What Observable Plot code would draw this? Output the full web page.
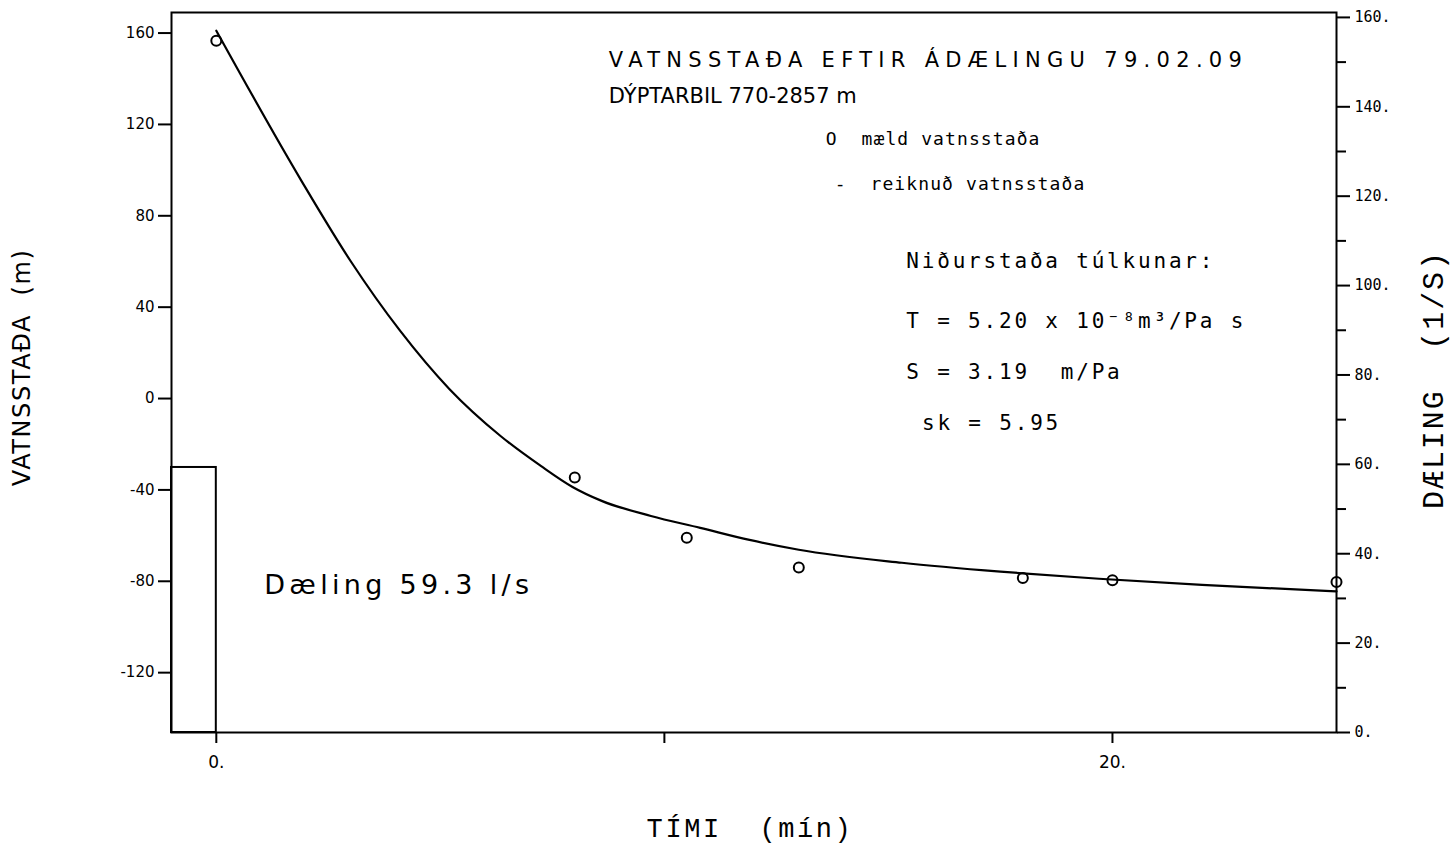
<!DOCTYPE html>
<html><head><meta charset="utf-8">
<script src="https://cdn.jsdelivr.net/npm/d3@7"></script>
<script src="https://cdn.jsdelivr.net/npm/@observablehq/plot@0.6"></script>
<style>
body{margin:0;background:#fff}
svg{display:block}
</style>
</head><body><div id="chart"></div>
<script>
// Measured water level (time in min, level in m)
const measuredTime  = [0, 8, 10.5, 13, 18, 20, 25];
const measuredLevel = [156.6, -34.6, -60.9, -74.0, -78.6, -79.5, -80.3];

// Computed water level curve
const curveTime  = [0, 1.9, 3.0, 4.1, 5.2, 6.35, 7.25, 7.95, 8.6, 9.7, 10.8, 11.9, 13.0, 15.3, 17.5, 19.7, 22.0, 25.0];
const curveLevel = [161, 95.3, 60.1, 29.7, 4.2, -16.5, -29.6, -38.7, -44.8, -51.4, -56.6, -61.9, -66.2, -71.9, -75.8, -78.9, -81.6, -84.4];

// Pumping (l/s) during the period before t = 0
const pumpPeriod = [-1, 0];
const pumpRate = 59.3;

// Axes
const levelDomain = [-146.2, 169];
const rateMax = 161.1;
const leftTicks = [-120, -80, -40, 0, 40, 80, 120, 160];
const rightTicks = [0, 20, 40, 60, 80, 100, 120, 140, 160];
const rightMinorTicks = [10, 30, 50, 70, 90, 110, 130, 150];
const timeTicks = [0, 10, 20];
const timeTickLabels = ["0.", "", "20."];

// Text
const titleLines = ["VATNSSTAÐA EFTIR ÁDÆLINGU 79.02.09", "DÝPTARBIL 770-2857 m"];
const legendMeasured = "O  mæld vatnsstaða";
const legendComputed = "-  reiknuð vatnsstaða";
const resultLines = ["Niðurstaða túlkunar:", "T = 5.20 x 10⁻⁸m³/Pa s", "S = 3.19  m/Pa", "sk = 5.95"];
const pumpLabel = "Dæling 59.3 l/s";
const yLeftLabel = "VATNSSTAÐA  (m)";
const yRightLabel = "DÆLING  (1/S)";
const xLabel = "TÍMI  (mín)";

// rate (right axis) -> level units (left axis)
const rateToLevel = q => levelDomain[0] + q / rateMax * (levelDomain[1] - levelDomain[0]);
const levelToRate = v => Math.round((v - levelDomain[0]) / (levelDomain[1] - levelDomain[0]) * rateMax);

const measured = measuredTime.map((t, i) => ({t, v: measuredLevel[i]}));
const curve = curveTime.map((t, i) => ({t, v: curveLevel[i]}));
const pump = [{x1: pumpPeriod[0], x2: pumpPeriod[1], y1: rateToLevel(0), y2: rateToLevel(pumpRate)}];

const sans = "'DejaVu Sans', sans-serif";
const mono = "'DejaVu Sans Mono', monospace";
const serifMono = "'Liberation Mono', monospace";

// letter spacing per text group (applied after rendering)
const spacing = {
  "txt-title": "6.3px", "txt-subtitle": "0px", "txt-legend": "1.1px", "txt-results": "2.8px",
  "txt-pump": "4.3px", "txt-ylabel": "1.6px", "txt-rlabel": "1.9px", "txt-xlabel": "2.6px"
};

const txt = (data, opts) => Plot.text(data, {text: d => d, textAnchor: "start", lineAnchor: "middle", fill: "#000", ...opts});

const chart = Plot.plot({
  width: 1456,
  height: 849,
  marginLeft: 171,
  marginRight: 120,
  marginTop: 12,
  marginBottom: 117,
  style: {background: "#fff", color: "#000"},
  x: {domain: [-1, 25]},
  y: {domain: levelDomain},
  marks: [
    Plot.frame({stroke: "#000", strokeWidth: 2}),
    Plot.axisY({anchor: "left", ticks: leftTicks, tickSize: 13, tickPadding: 4, tickFormat: d => String(d),
      label: null, fontSize: 15, fontFamily: sans, strokeWidth: 2}),
    Plot.axisY({anchor: "right", ticks: rightTicks.map(rateToLevel), tickSize: 13, tickPadding: 5,
      tickFormat: v => levelToRate(v) + ".", label: null, fontSize: 15, fontFamily: mono, strokeWidth: 2}),
    Plot.axisY({anchor: "right", ticks: rightMinorTicks.map(rateToLevel), tickSize: 9, tickFormat: () => "",
      label: null, strokeWidth: 2}),
    Plot.axisX({ticks: timeTicks, tickSize: 11, tickPadding: 12, tickFormat: (d, i) => timeTickLabels[i],
      label: null, fontSize: 17, fontFamily: sans, strokeWidth: 2}),
    Plot.rect(pump, {x1: "x1", x2: "x2", y1: "y1", y2: "y2", fill: "none", stroke: "#000", strokeWidth: 2}),
    Plot.line(curve, {x: "t", y: "v", stroke: "#000", strokeWidth: 2.2, curve: "monotone-x"}),
    Plot.dot(measured, {x: "t", y: "v", r: 5, stroke: "#000", strokeWidth: 2, fill: "none"}),
    // title block
    txt([titleLines[0]], {x: 8.76, y: 148.3, fontSize: 21, fontFamily: sans, ariaDescription: "txt-title"}),
    txt([titleLines[1]], {x: 8.76, y: 132.5, fontSize: 21, fontFamily: sans, ariaDescription: "txt-subtitle"}),
    txt([legendMeasured], {x: 13.6, y: 113.7, fontSize: 18, fontFamily: mono, ariaDescription: "txt-legend"}),
    txt([legendComputed], {x: 13.8, y: 94, fontSize: 18, fontFamily: mono, ariaDescription: "txt-legend"}),
    txt([resultLines[0]], {x: 15.4, y: 60.3, fontSize: 21, fontFamily: mono, ariaDescription: "txt-results"}),
    txt([resultLines[1]], {x: 15.4, y: 34, fontSize: 21, fontFamily: mono, ariaDescription: "txt-results"}),
    txt([resultLines[2]], {x: 15.4, y: 11.4, fontSize: 21, fontFamily: mono, ariaDescription: "txt-results"}),
    txt([resultLines[3]], {x: 15.75, y: -11, fontSize: 21, fontFamily: mono, ariaDescription: "txt-results"}),
    txt([pumpLabel], {x: 1.07, y: -82, fontSize: 27, fontFamily: sans, ariaDescription: "txt-pump"}),
    // axis titles
    txt([yLeftLabel], {frameAnchor: "left", dx: -149, dy: -5, rotate: -90, textAnchor: "middle",
      fontSize: 24, fontFamily: sans, ariaDescription: "txt-ylabel"}),
    txt([yRightLabel], {frameAnchor: "right", dx: 97, dy: 7, rotate: -90, textAnchor: "middle",
      fontSize: 30, fontFamily: serifMono, ariaDescription: "txt-rlabel"}),
    txt([xLabel], {frameAnchor: "bottom", dx: -4, dy: 96, textAnchor: "middle",
      fontSize: 27, fontFamily: serifMono, ariaDescription: "txt-xlabel"})
  ]
});
for (const [k, v] of Object.entries(spacing)) {
  chart.querySelectorAll(`[aria-description="${k}"] text, text[aria-description="${k}"]`).forEach(t => t.style.letterSpacing = v);
}
document.getElementById("chart").append(chart);
</script>
</body></html>
